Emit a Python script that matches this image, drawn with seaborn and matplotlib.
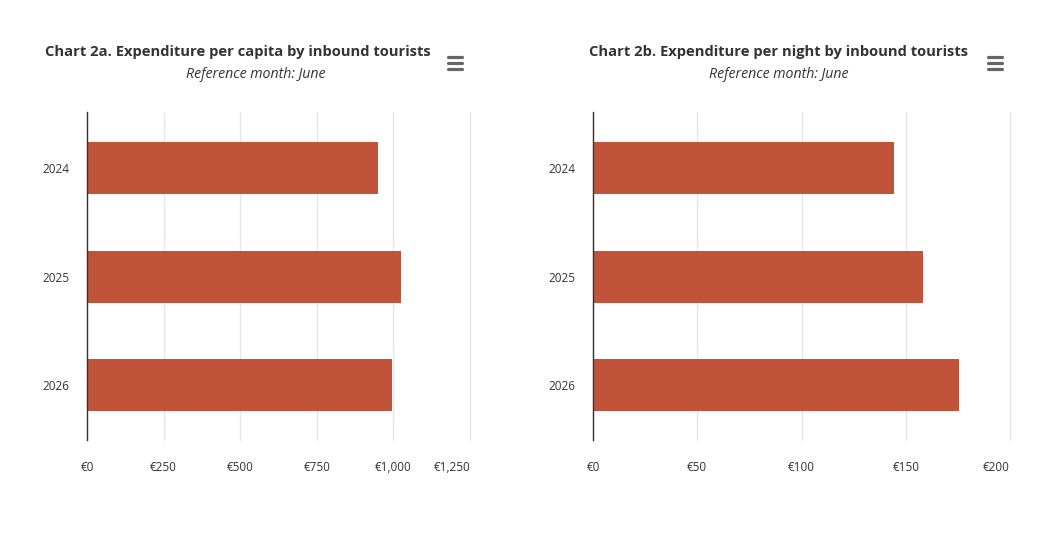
#!/usr/bin/env python3
"""Expenditure by inbound tourists, June: per capita and per night."""

import matplotlib.pyplot as plt
import pandas as pd
import seaborn as sns
from matplotlib.ticker import FuncFormatter

years = ["2024", "2025", "2026"]
per_capita = [951, 1026, 997]
per_night = [144.5, 158.5, 175.5]

capita_ticks = [0, 250, 500, 750, 1000, 1250]
night_ticks = [0, 50, 100, 150, 200]

BAR_COLOR = "#c0533a"
TEXT_COLOR = "#333333"
W, H = 1053, 551

sns.set_theme(style="white")
plt.rcParams["font.family"] = ["Open Sans", "DejaVu Sans"]


def euro(v, _pos=None):
    return f"€{v:,.0f}"


def draw_panel(fig, rect, values, ticks, title, title_x, sub_x, icon_x):
    ax = fig.add_axes(rect)
    df = pd.DataFrame({"year": years, "value": values})
    sns.barplot(data=df, x="value", y="year", color=BAR_COLOR, width=0.48,
                saturation=1, linewidth=0, ax=ax, zorder=2)
    ax.set_xlim(0, ticks[-1])
    ax.set_ylim(2.51, -0.52)
    ax.set_xticks(ticks)
    ax.xaxis.set_major_formatter(FuncFormatter(euro))
    ax.grid(axis="x", color="#e6e6e6", linewidth=1, zorder=0)
    for line in ax.get_xgridlines():
        line.set_clip_on(False)
    ax.set_axisbelow(True)
    ax.set_xlabel("")
    ax.set_ylabel("")
    for side in ["top", "right", "bottom"]:
        ax.spines[side].set_visible(False)
    ax.spines["left"].set_color("#333333")
    ax.spines["left"].set_linewidth(1)
    ax.spines["left"].set_zorder(5)
    ax.tick_params(axis="x", length=0, pad=15, labelsize=8.5, colors=TEXT_COLOR)
    ax.tick_params(axis="y", length=0, pad=13, labelsize=8.5, colors=TEXT_COLOR)
    # last label kept inside the plot, as the original does
    ax.get_xticklabels()[-1].set_horizontalalignment("right")

    fig.text(title_x / W, 1 - 52 / H, title, ha="center", va="center",
             fontsize=10.6, fontweight="bold", color=TEXT_COLOR)
    fig.text(sub_x / W, 1 - 74 / H, "Reference month: June",
             ha="center", va="center", fontsize=10.2, style="italic",
             color=TEXT_COLOR)
    # export menu icon
    for dy in (-6, 0, 6):
        fig.add_artist(plt.Line2D([(icon_x - 7) / W, (icon_x + 7) / W],
                                  [1 - (63 + dy) / H] * 2, color="#666666",
                                  linewidth=2.3, solid_capstyle="round"))
    return ax


fig = plt.figure(figsize=(W / 100, H / 100), dpi=100)
fig.patch.set_facecolor("white")

draw_panel(fig, [87 / W, 111 / H, 383 / W, 328 / H], per_capita,
           capita_ticks, "Chart 2a. Expenditure per capita by inbound tourists",
           238, 256, 455)
draw_panel(fig, [593 / W, 111 / H, 417 / W, 328 / H], per_night,
           night_ticks, "Chart 2b. Expenditure per night by inbound tourists",
           779, 779, 995)

fig.savefig("out.png", dpi=100, facecolor="white")
